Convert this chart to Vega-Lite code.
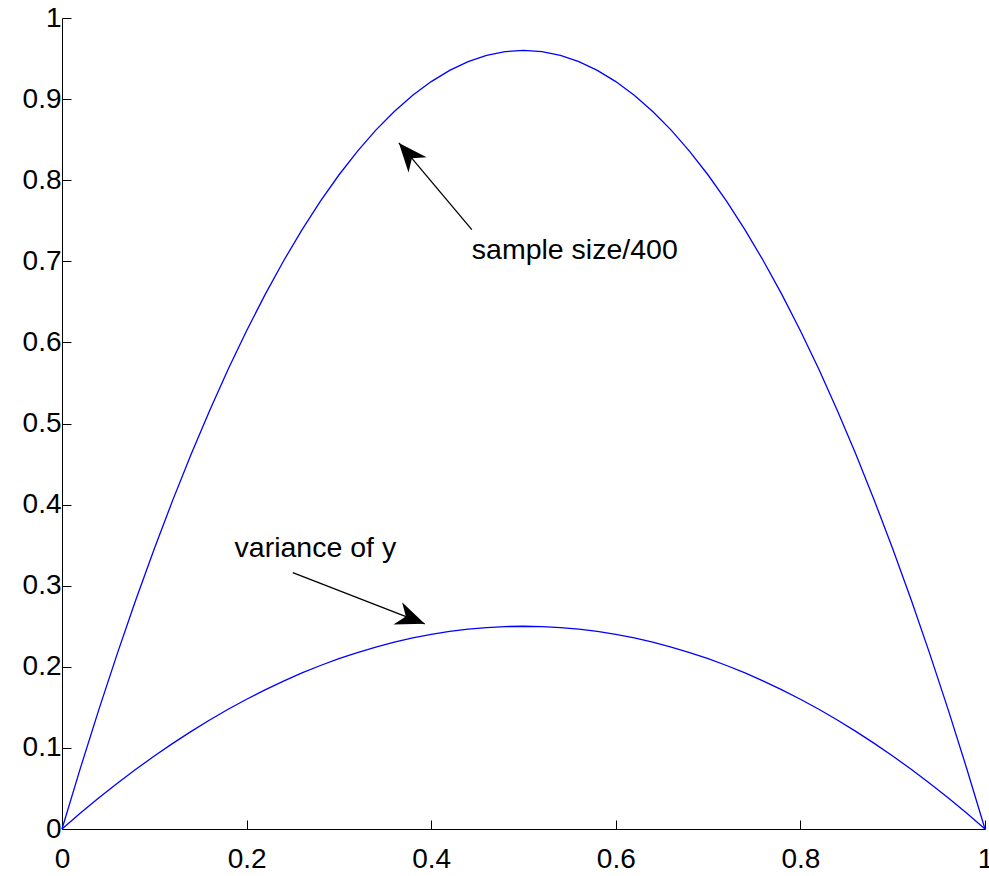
{
  "$schema": "https://vega.github.io/schema/vega-lite/v6.json",
  "width": 923,
  "height": 811,
  "autosize": "none",
  "padding": {"left": 62, "top": 18, "right": 4, "bottom": 47},
  "background": "white",
  "config": {
    "view": {"stroke": null},
    "font": "Liberation Sans",
    "axis": {
      "grid": false,
      "domainColor": "black",
      "domainWidth": 1,
      "tickColor": "black",
      "tickWidth": 1,
      "tickSize": -9,
      "labelFont": "Liberation Sans",
      "labelFontSize": 28,
      "labelColor": "black",
      "format": "~g",
      "title": null
    }
  },
  "datasets": {
    "curves": [
      {"p": 0.00, "variance": 0.0000, "size": 0.0000},
      {"p": 0.02, "variance": 0.0196, "size": 0.0753},
      {"p": 0.04, "variance": 0.0384, "size": 0.1475},
      {"p": 0.06, "variance": 0.0564, "size": 0.2166},
      {"p": 0.08, "variance": 0.0736, "size": 0.2826},
      {"p": 0.10, "variance": 0.0900, "size": 0.3456},
      {"p": 0.12, "variance": 0.1056, "size": 0.4055},
      {"p": 0.14, "variance": 0.1204, "size": 0.4623},
      {"p": 0.16, "variance": 0.1344, "size": 0.5161},
      {"p": 0.18, "variance": 0.1476, "size": 0.5668},
      {"p": 0.20, "variance": 0.1600, "size": 0.6144},
      {"p": 0.22, "variance": 0.1716, "size": 0.6589},
      {"p": 0.24, "variance": 0.1824, "size": 0.7004},
      {"p": 0.26, "variance": 0.1924, "size": 0.7388},
      {"p": 0.28, "variance": 0.2016, "size": 0.7741},
      {"p": 0.30, "variance": 0.2100, "size": 0.8064},
      {"p": 0.32, "variance": 0.2176, "size": 0.8356},
      {"p": 0.34, "variance": 0.2244, "size": 0.8617},
      {"p": 0.36, "variance": 0.2304, "size": 0.8847},
      {"p": 0.38, "variance": 0.2356, "size": 0.9047},
      {"p": 0.40, "variance": 0.2400, "size": 0.9216},
      {"p": 0.42, "variance": 0.2436, "size": 0.9354},
      {"p": 0.44, "variance": 0.2464, "size": 0.9462},
      {"p": 0.46, "variance": 0.2484, "size": 0.9539},
      {"p": 0.48, "variance": 0.2496, "size": 0.9585},
      {"p": 0.50, "variance": 0.2500, "size": 0.9600},
      {"p": 0.52, "variance": 0.2496, "size": 0.9585},
      {"p": 0.54, "variance": 0.2484, "size": 0.9539},
      {"p": 0.56, "variance": 0.2464, "size": 0.9462},
      {"p": 0.58, "variance": 0.2436, "size": 0.9354},
      {"p": 0.60, "variance": 0.2400, "size": 0.9216},
      {"p": 0.62, "variance": 0.2356, "size": 0.9047},
      {"p": 0.64, "variance": 0.2304, "size": 0.8847},
      {"p": 0.66, "variance": 0.2244, "size": 0.8617},
      {"p": 0.68, "variance": 0.2176, "size": 0.8356},
      {"p": 0.70, "variance": 0.2100, "size": 0.8064},
      {"p": 0.72, "variance": 0.2016, "size": 0.7741},
      {"p": 0.74, "variance": 0.1924, "size": 0.7388},
      {"p": 0.76, "variance": 0.1824, "size": 0.7004},
      {"p": 0.78, "variance": 0.1716, "size": 0.6589},
      {"p": 0.80, "variance": 0.1600, "size": 0.6144},
      {"p": 0.82, "variance": 0.1476, "size": 0.5668},
      {"p": 0.84, "variance": 0.1344, "size": 0.5161},
      {"p": 0.86, "variance": 0.1204, "size": 0.4623},
      {"p": 0.88, "variance": 0.1056, "size": 0.4055},
      {"p": 0.90, "variance": 0.0900, "size": 0.3456},
      {"p": 0.92, "variance": 0.0736, "size": 0.2826},
      {"p": 0.94, "variance": 0.0564, "size": 0.2166},
      {"p": 0.96, "variance": 0.0384, "size": 0.1475},
      {"p": 0.98, "variance": 0.0196, "size": 0.0753},
      {"p": 1.00, "variance": 0.0000, "size": 0.0000}
    ],
    "arrows": [
      {"label": "sample size/400", "x0": 0.444, "y0": 0.739, "x1": 0.365, "y1": 0.846, "dir": 229.8, "tx": 0.444, "ty": 0.714},
      {"label": "variance of y", "x0": 0.25, "y0": 0.316, "x1": 0.393, "y1": 0.253, "dir": 21.2, "tx": 0.187, "ty": 0.346}
    ]
  },
  "layer": [
    {
      "data": {"name": "curves"},
      "mark": {"type": "line", "color": "#0000ff", "strokeWidth": 1.3},
      "encoding": {
        "x": {
          "field": "p", "type": "quantitative",
          "scale": {"domain": [0, 1], "nice": false, "zero": false},
          "axis": {"values": [0, 0.2, 0.4, 0.6, 0.8, 1], "labelPadding": 25, "labelFlush": false}
        },
        "y": {
          "field": "size", "type": "quantitative",
          "scale": {"domain": [0, 1], "nice": false, "zero": false},
          "axis": {"values": [0, 0.1, 0.2, 0.3, 0.4, 0.5, 0.6, 0.7, 0.8, 0.9, 1], "labelPadding": 10, "labelFlush": false}
        }
      }
    },
    {
      "data": {"name": "curves"},
      "mark": {"type": "line", "color": "#0000ff", "strokeWidth": 1.3},
      "encoding": {
        "x": {"field": "p", "type": "quantitative"},
        "y": {"field": "variance", "type": "quantitative"}
      }
    },
    {
      "data": {"name": "arrows"},
      "mark": {"type": "rule", "color": "black", "strokeWidth": 1.3},
      "encoding": {
        "x": {"field": "x0", "type": "quantitative"},
        "y": {"field": "y0", "type": "quantitative"},
        "x2": {"field": "x1"},
        "y2": {"field": "y1"}
      }
    },
    {
      "data": {"name": "arrows"},
      "mark": {
        "type": "point",
        "shape": "M0,0 L-2,-0.82 L-1.4,0 L-2,0.82 Z",
        "filled": true,
        "color": "black",
        "opacity": 1,
        "size": 835,
        "strokeWidth": 0
      },
      "encoding": {
        "x": {"field": "x1", "type": "quantitative"},
        "y": {"field": "y1", "type": "quantitative"},
        "angle": {"field": "dir", "type": "quantitative", "scale": null}
      }
    },
    {
      "data": {"name": "arrows"},
      "mark": {"type": "text", "align": "left", "baseline": "middle", "font": "Liberation Sans", "fontSize": 28.5, "color": "black"},
      "encoding": {
        "x": {"field": "tx", "type": "quantitative"},
        "y": {"field": "ty", "type": "quantitative"},
        "text": {"field": "label"}
      }
    }
  ]
}
